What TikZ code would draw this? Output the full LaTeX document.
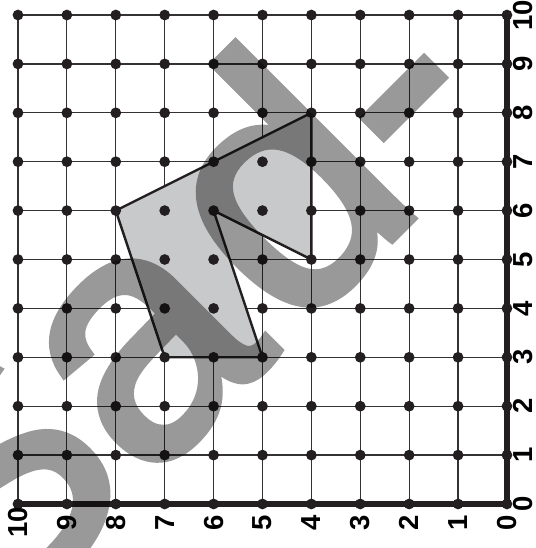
\documentclass[tikz,border=0pt]{standalone}
\usepackage{fontspec}
\newfontfamily\labelfont{Liberation Sans}
\newfontfamily\markfont{Liberation Sans}[FakeBold=2.5]
\definecolor{shapegray}{RGB}{200,201,203}
\definecolor{dotblack}{RGB}{35,31,32}
\tikzset{
	gridline/.style={line width=0.7pt, black!80},
	axisline/.style={line width=3pt, dotblack},
	edgeline/.style={line width=1.4pt, dotblack, line join=round},
	numlabel/.style={rotate=90, inner sep=0pt, font=\labelfont\bfseries\fontsize{16}{16}\selectfont},
	watermark/.style={rotate=45, anchor=base west, inner sep=0pt, text=black, font=\markfont\fontsize{200}{200}\selectfont}
}
\begin{document}
\begin{tikzpicture}
	\useasboundingbox (-10.368,-0.9) rectangle (0.593,10.307);
	\begin{scope}[rotate=90]
		% الشبكة
		\draw[gridline] (0,0) grid (10,10);
		
		% رؤوس الشكل
		\coordinate (P) at (6,8);
		\coordinate (Q) at (8,4);
		\coordinate (R) at (5,4);
		\coordinate (S) at (6,6);
		\coordinate (T) at (3,5);
		\coordinate (U) at (3,7);
		
		% رسم الشكل
		\fill[shapegray] (P) -- (Q) -- (R) -- (S) -- (T) -- (U) -- cycle;
		\draw[edgeline] (P) -- (Q) -- (R) -- (S) -- (T) -- (U) -- cycle;
		
		% المحاور
		\draw[axisline] (10,0) -- (0,0) -- (0,10);
		
		% رسم النقاط
		\foreach \i in {0,...,10}
			\foreach \j in {0,...,10}
				\fill[dotblack] (\i,\j) circle (0.11);
		
		% التسميات
		\foreach \i in {0,...,10} {
			\node[numlabel] at (\i,-0.33) {\i};
			\node[numlabel] at (-0.38,\i) {\i};
		}
	\end{scope}
	
	% العلامة المائية
	\begin{scope}[transparency group, opacity=0.4]
		\clip (-10.368,-0.9) rectangle (0.593,10.307);
		\node[watermark] (mark) at (-10.73,-2.96) {Sa\kern0.38cm d-};
	\end{scope}
\end{tikzpicture}
\end{document}
